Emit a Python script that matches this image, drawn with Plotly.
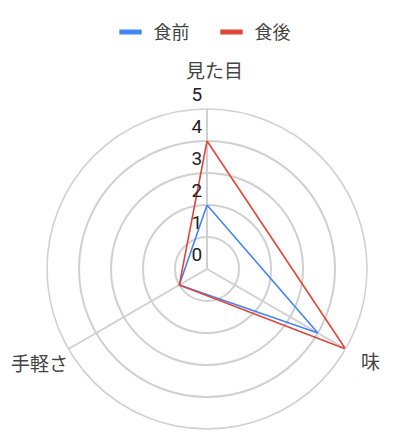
import plotly.graph_objects as go

# categories and series
categories = ["見た目", "味", "手軽さ"]
before_vals = [2, 4, 1]   # 食前
after_vals = [4, 5, 1]    # 食後
series_names = ["食前", "食後"]
series_colors = ["#4285F4", "#E2453A"]
radial_ticks = [0, 1, 2, 3, 4, 5]

# where the category labels sit (paper coords, anchor), chart.js style
label_pos = [
    (0.514, 0.856, "center", "middle"),
    (0.875, 0.201, "left", "middle"),
    (0.155, 0.197, "right", "middle"),
]

fig = go.Figure()

for name, vals, col in zip(series_names, [before_vals, after_vals], series_colors):
    # close the polygon
    fig.add_trace(go.Scatterpolar(
        r=vals + vals[:1],
        theta=categories + categories[:1],
        mode="lines",
        line=dict(color=col, width=1.6),
        name=name,
        showlegend=False,
        hoverinfo="skip",
    ))
    # legend swatch only
    fig.add_trace(go.Scatterpolar(
        r=[None], theta=[None],
        mode="markers",
        marker=dict(symbol="line-ew", size=16, color=col, line=dict(color=col, width=5)),
        name=name,
    ))

# radial tick labels, drawn just above-left of each ring on the top spoke
fig.add_trace(go.Scatterpolar(
    r=radial_ticks,
    theta=[categories[0]] * len(radial_ticks),
    mode="text",
    text=[f"{t} <br> " for t in radial_ticks],
    textposition="middle left",
    textfont=dict(size=19, color="#222"),
    showlegend=False,
    hoverinfo="skip",
))

for cat, (x, y, xa, ya) in zip(categories, label_pos):
    fig.add_annotation(text=cat, x=x, y=y, xref="paper", yref="paper",
                       xanchor=xa, yanchor=ya, showarrow=False,
                       font=dict(size=19, color="#444"))

fig.update_layout(
    width=401, height=444,
    margin=dict(l=0, r=0, t=0, b=0),
    paper_bgcolor="white",
    font=dict(family="Roboto, Noto Sans CJK JP, sans-serif", color="#444", size=16),
    legend=dict(
        orientation="h", x=0.5, xanchor="center", y=0.945, yanchor="middle",
        font=dict(size=18, color="#444"), itemwidth=36, entrywidth=50,
    ),
    polar=dict(
        domain=dict(x=[0.0973, 0.8953], y=[0.0518, 0.7725]),
        bgcolor="white",
        radialaxis=dict(
            range=[0, 5], tickvals=radial_ticks, angle=90,
            showline=False, gridcolor="#d0d0d0", gridwidth=1.5,
            ticks="", showticklabels=False,
        ),
        angularaxis=dict(
            rotation=90, direction="clockwise",
            showline=True, linecolor="#d0d0d0", linewidth=1.5,
            gridcolor="#d0d0d0", gridwidth=1.5,
            ticks="", showticklabels=False,
        ),
    ),
)

fig.write_html("out.html")
